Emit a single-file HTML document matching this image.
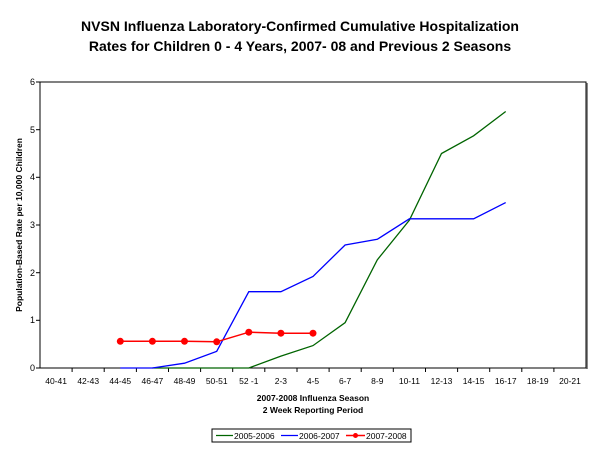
<!DOCTYPE html>
<html><head><meta charset="utf-8"><style>body{margin:0;background:#fff}svg{display:block}text{font-family:"Liberation Sans",Arial,sans-serif}</style></head>
<body>
<svg width="600" height="450" viewBox="0 0 600 450" xmlns="http://www.w3.org/2000/svg">
<text x="300" y="31" font-size="14" font-weight="bold" text-anchor="middle">NVSN Influenza Laboratory-Confirmed Cumulative Hospitalization</text>
<text x="300" y="51" font-size="14" font-weight="bold" text-anchor="middle">Rates for Children 0 - 4 Years, 2007- 08 and Previous 2 Seasons</text>
<line x1="587" y1="83" x2="587" y2="369" stroke="#888" stroke-width="2"/>
<rect x="40" y="82" width="546" height="286" fill="none" stroke="#000" stroke-width="1"/>
<g font-size="9" text-anchor="end">
<text x="35" y="371">0</text><text x="35" y="323">1</text><text x="35" y="276">2</text><text x="35" y="228">3</text><text x="35" y="180">4</text><text x="35" y="133">5</text><text x="35" y="85">6</text>
</g>
<g stroke="#000"><line x1="36" y1="368" x2="40" y2="368"/><line x1="36" y1="320.3" x2="40" y2="320.3"/><line x1="36" y1="272.7" x2="40" y2="272.7"/><line x1="36" y1="225" x2="40" y2="225"/><line x1="36" y1="177.3" x2="40" y2="177.3"/><line x1="36" y1="129.7" x2="40" y2="129.7"/><line x1="36" y1="82" x2="40" y2="82"/></g>
<g stroke="#000">
<line x1="72.1" y1="368" x2="72.1" y2="372"/><line x1="104.2" y1="368" x2="104.2" y2="372"/><line x1="136.4" y1="368" x2="136.4" y2="372"/><line x1="168.5" y1="368" x2="168.5" y2="372"/><line x1="200.6" y1="368" x2="200.6" y2="372"/><line x1="232.7" y1="368" x2="232.7" y2="372"/><line x1="264.8" y1="368" x2="264.8" y2="372"/><line x1="297" y1="368" x2="297" y2="372"/><line x1="329.1" y1="368" x2="329.1" y2="372"/><line x1="361.2" y1="368" x2="361.2" y2="372"/><line x1="393.3" y1="368" x2="393.3" y2="372"/><line x1="425.5" y1="368" x2="425.5" y2="372"/><line x1="457.6" y1="368" x2="457.6" y2="372"/><line x1="489.7" y1="368" x2="489.7" y2="372"/><line x1="521.8" y1="368" x2="521.8" y2="372"/><line x1="553.9" y1="368" x2="553.9" y2="372"/>
</g>
<g font-size="8.5" text-anchor="middle">
<text x="56.1" y="384">40-41</text><text x="88.2" y="384">42-43</text><text x="120.3" y="384">44-45</text><text x="152.4" y="384">46-47</text><text x="184.5" y="384">48-49</text><text x="216.7" y="384">50-51</text><text x="248.8" y="384">52 -1</text><text x="280.9" y="384">2-3</text><text x="313" y="384">4-5</text><text x="345.1" y="384">6-7</text><text x="377.3" y="384">8-9</text><text x="409.4" y="384">10-11</text><text x="441.5" y="384">12-13</text><text x="473.6" y="384">14-15</text><text x="505.7" y="384">16-17</text><text x="537.8" y="384">18-19</text><text x="570" y="384">20-21</text>
</g>
<text x="313" y="401" font-size="8.5" font-weight="bold" text-anchor="middle">2007-2008 Influenza Season</text>
<text x="313" y="413" font-size="8.5" font-weight="bold" text-anchor="middle">2 Week Reporting Period</text>
<text transform="translate(22,225) rotate(-90)" font-size="8.5" font-weight="bold" text-anchor="middle">Population-Based Rate per 10,000 Children</text>
<polyline fill="none" stroke="#006400" stroke-width="1.3" points="152.4,368 184.5,368 216.7,368 248.8,368 280.9,356.1 313,345.6 345.1,322.7 377.3,259.8 409.4,220.2 441.5,153.5 473.6,135.8 505.7,111.5"/>
<polyline fill="none" stroke="#0000ff" stroke-width="1.3" points="120.3,368 152.4,368 184.5,363.2 216.7,351.3 248.8,291.7 280.9,291.7 313,276.5 345.1,245 377.3,239.3 409.4,218.8 441.5,218.8 473.6,218.8 505.7,202.6"/>
<polyline fill="none" stroke="#ff0000" stroke-width="1.5" points="120.3,341.3 152.4,341.3 184.5,341.3 216.7,341.8 248.8,332.2 280.9,333.2 313,333.2"/>
<g fill="#ff0000"><circle cx="120.3" cy="341.3" r="3.5"/><circle cx="152.4" cy="341.3" r="3.5"/><circle cx="184.5" cy="341.3" r="3.5"/><circle cx="216.7" cy="341.8" r="3.5"/><circle cx="248.8" cy="332.2" r="3.5"/><circle cx="280.9" cy="333.2" r="3.5"/><circle cx="313" cy="333.2" r="3.5"/></g>
<rect x="212" y="429" width="199" height="13" fill="#fff" stroke="#000"/>
<line x1="216" y1="435.5" x2="233" y2="435.5" stroke="#006400" stroke-width="1.2"/>
<text x="234" y="439" font-size="8.5">2005-2006</text>
<line x1="281" y1="435.5" x2="298" y2="435.5" stroke="#0000ff" stroke-width="1.2"/>
<text x="299" y="439" font-size="8.5">2006-2007</text>
<line x1="346" y1="435.5" x2="365" y2="435.5" stroke="#ff0000" stroke-width="1.5"/>
<circle cx="355.5" cy="435.5" r="2.5" fill="#ff0000"/>
<text x="366" y="439" font-size="8.5">2007-2008</text>
</svg>
</body></html>
